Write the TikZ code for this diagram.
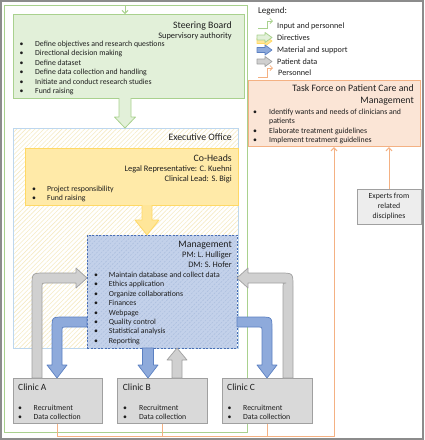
\documentclass[tikz,border=0pt]{standalone}
\usepackage{fontspec}
\setmainfont{Carlito}
\usetikzlibrary{arrows.meta,patterns.meta,calc}
\definecolor{grB}{HTML}{A9D18E}
\definecolor{grF}{HTML}{E2F0D9}
\definecolor{orB}{HTML}{F4B183}
\definecolor{orF}{HTML}{FBE5D6}
\definecolor{yeB}{HTML}{FFD966}
\definecolor{yeF}{HTML}{FFEAA8}
\definecolor{yeA}{HTML}{FFE699}
\definecolor{yeH}{HTML}{F6EBC4}
\definecolor{exB}{HTML}{BDD7EE}
\definecolor{mgB}{HTML}{4A6FB5}
\definecolor{mgF}{HTML}{C3D1EA}
\definecolor{mgH}{HTML}{AEC0DF}
\definecolor{blF}{HTML}{8EAADB}
\definecolor{blB}{HTML}{5B80C2}
\definecolor{gyF}{HTML}{D0D0D0}
\definecolor{gyB}{HTML}{A0A0A0}
\definecolor{clF}{HTML}{D9D9D9}
\definecolor{xpF}{HTML}{EDEDED}
\definecolor{frm}{HTML}{8C8C8C}
\definecolor{txt}{HTML}{1E1E1E}
\newcommand\fT{\fontsize{9.8}{11}\selectfont}
\newcommand\fS{\fontsize{8.4}{9}\selectfont}
\newcommand\fB{\fontsize{7.8}{9.4}\selectfont}
\newcommand\fL{\fontsize{8.2}{9}\selectfont}
\newcommand\fC{\fontsize{9.5}{11}\selectfont}
\newcommand\blist[2]{\begin{tabular}[t]{@{}p{#1}@{}l@{}}#2\end{tabular}}
\begin{document}
\begin{tikzpicture}[x=1pt,y=-1pt,
  every node/.style={text=txt},
  box/.style={inner sep=0pt, anchor=north west},
  ttl/.style={anchor=base east, inner sep=0pt, font=\fT},
  sub/.style={anchor=base east, inner sep=0pt, font=\fS},
  lst/.style={anchor=base west, inner sep=0pt, font=\fB},
  leg/.style={anchor=base west, inner sep=0pt, font=\fL},
  ctl/.style={anchor=base west, inner sep=0pt, font=\fC},
  grl/.style={draw=grB, line width=1pt},
  orl/.style={draw=orB, line width=1pt},
  barb/.style={-{Straight Barb[length=3pt,width=6pt]}},
  garrow/.style={fill=grF, draw=grB, line width=0.8pt, line join=round},
  yarrow/.style={fill=yeA, draw=yeB, line width=0.8pt, line join=round},
  barrow/.style={fill=blF, draw=blB, line width=0.7pt, line join=round},
  gyarrow/.style={fill=gyF, draw=gyB, line width=0.7pt, line join=round},
  clinic/.style={box, fill=clF, draw=gyB, line width=0.8pt, minimum height=45pt}]
\useasboundingbox (0,0) rectangle (424,440);
\draw[frm, line width=2pt] (1,1) rectangle (423,439);

% green input frame
\draw[grl] (4,5) rectangle (247,432);

% boxes
\node[box, preaction={fill=white}, pattern={Lines[angle=45,distance=3.2pt,line width=0.6pt]}, pattern color=yeH, draw=exB, line width=1pt, minimum width=225pt, minimum height=220pt] (ex) at (13,128) {};
\node[box, fill=yeF, draw=yeB, line width=0.8pt, minimum width=213pt, minimum height=57pt] (co) at (25,148) {};
\node[box, preaction={fill=mgF}, pattern={Lines[angle=45,distance=3.2pt,line width=0.6pt]}, pattern color=mgH, draw=mgB, dash pattern=on 2pt off 1.5pt, line width=0.7pt, minimum width=150pt, minimum height=113pt] (mg) at (87,235) {};
\node[box, fill=grF, draw=grB, line width=1.2pt, minimum width=231pt, minimum height=84pt] (sb) at (13,14) {};
\node[box, fill=orF, draw=orB, line width=1.2pt, minimum width=172pt, minimum height=66pt] (tf) at (248,80) {};
\node[fill=xpF, draw=gyB, line width=0.7pt, minimum width=64pt, minimum height=35pt, inner sep=0pt, align=center, font=\fontsize{7.8}{10.4}\selectfont] (xp) at (389,206.5) {Experts from\\related\\disciplines};

% green input arrow
\coordinate (gtop) at (125,5);
\draw[grl, barb] (gtop) -- (gtop |- sb.north);

% Steering board text
\node[ttl] (sbT) at (232,28.5) {Steering Board};
\node[sub] (sbS) at (232,38) {Supervisory authority};
\node[lst] (sbL) at (19.5,46.5) {\blist{15.5pt}{%
\textbullet & Define objectives and research questions\\
\textbullet & Directional decision making\\
\textbullet & Define dataset\\
\textbullet & Define data collection and handling\\
\textbullet & Initiate and conduct research studies\\
\textbullet & Fund raising}};

% Executive office / Co-Heads / Management text
\node[ttl] (exT) at (232,140.5) {Executive Office};
\node[ttl] (coT) at (232,161.5) {Co-Heads};
\node[sub] (coS1) at (232,171) {Legal Representative: C. Kuehni};
\node[sub] (coS2) at (232,181.2) {Clinical Lead: S. Bigi};
\node[lst] (coL) at (32,191.5) {\blist{15pt}{%
\textbullet & Project responsibility\\
\textbullet & Fund raising}};
\node[ttl] (mgT) at (232,247.5) {Management};
\node[sub] (mgS1) at (232,257.2) {PM: L. Hulliger};
\node[sub] (mgS2) at (232,267.4) {DM: S. Hofer};
\node[lst] (mgL) at (94,277.5) {\blist{14.7pt}{%
\textbullet & Maintain database and collect data\\
\textbullet & Ethics application\\
\textbullet & Organize collaborations\\
\textbullet & Finances\\
\textbullet & Webpage\\
\textbullet & Quality control\\
\textbullet & Statistical analysis\\
\textbullet & Reporting}};

% Task force text
\node[ttl] (tfT1) at (414,91.5) {Task Force on Patient Care and};
\node[ttl] (tfT2) at (414,103.7) {Management};
\node[lst] (tfL) at (253,114.2) {\blist{16pt}{%
\textbullet & Identify wants and needs of clinicians and\\
 & patients\\
\textbullet & Elaborate treatment guidelines\\
\textbullet & Implement treatment guidelines}};

% Legend
\node[anchor=base west, inner sep=0pt, font=\fontsize{9}{10}\selectfont] (lgT) at (258,13.3) {Legend:};
\draw[grl, line width=0.8pt, -{Straight Barb[length=2.5pt,width=5pt]}] (258,28) -- (267,28) -- (267,21) -- (273,21);
\node[leg] (lg1) at (277,28.2) {Input and personnel};
\draw[yarrow] (257,38.5) -- (265,38.5) -- (265,36) -- (272,41) -- (265,46) -- (265,43.5) -- (257,43.5) -- cycle;
\draw[garrow] (257,35) -- (265,35) -- (265,32.5) -- (272,37.5) -- (265,42.5) -- (265,40) -- (257,40) -- cycle;
\node[leg] (lg2) at (277,40.7) {Directives};
\draw[barrow] (257,47.5) -- (265,47.5) -- (265,45) -- (272,50) -- (265,55) -- (265,52.5) -- (257,52.5) -- cycle;
\node[leg] (lg3) at (277,52.7) {Material and support};
\draw[gyarrow] (257,59) -- (265,59) -- (265,56.5) -- (272,61.5) -- (265,66.5) -- (265,64) -- (257,64) -- cycle;
\node[leg] (lg4) at (277,64.2) {Patient data};
\draw[orl, line width=0.8pt, -{Straight Barb[length=2.5pt,width=5pt]}] (258,77) -- (267,77) -- (267,68) -- (273,68);
\node[leg] (lg5) at (278,75.4) {Personnel};

% Clinics
\node[clinic, minimum width=89pt] (clA) at (13,378) {};
\node[clinic, minimum width=90pt] (clB) at (117,378) {};
\node[clinic, minimum width=90pt] (clC) at (222,378) {};
\node[ctl] (clAT) at (18,390.5) {Clinic A};
\node[ctl] (clBT) at (122.7,390.5) {Clinic B};
\node[ctl] (clCT) at (227,390.5) {Clinic C};
\node[lst] (clAL) at (18,410) {\blist{15.5pt}{\textbullet & Recruitment\\ \textbullet & Data collection}};
\node[lst] (clBL) at (123,410) {\blist{16pt}{\textbullet & Recruitment\\ \textbullet & Data collection}};
\node[lst] (clCL) at (227.3,410) {\blist{15.7pt}{\textbullet & Recruitment\\ \textbullet & Data collection}};

% Directive block arrows
\draw[garrow] (119,98) -- (119,117) -- (114.5,117) -- (125,128) -- (135.5,117) -- (131,117) -- (131,98);
\draw[yarrow] (142,205) -- (142,220) -- (135,220) -- (147,235) -- (159,220) -- (152,220) -- (152,205);

% Patient data (gray) arrows
\draw[gyarrow] (32,378) -- (32,286) .. controls (32,273) .. (45,273) -- (76,273) -- (76,268) -- (87,278) -- (76,288) -- (76,283) -- (45,283) .. controls (42,283) .. (42,286) -- (42,378) -- cycle;
\draw[gyarrow] (293,378) -- (293,286) .. controls (293,273) .. (280,273) -- (248,273) -- (248,268) -- (237,278) -- (248,288) -- (248,283) -- (286,283) .. controls (283,283) .. (283,286) -- (283,378) -- cycle;
\draw[gyarrow] (172,378) -- (172,360) -- (167,360) -- (177,348) -- (187,360) -- (182,360) -- (182,378) -- cycle;

% Material and support (blue) arrows
\draw[barrow] (87,317) -- (64,317) .. controls (52,317) .. (52,329) -- (52,365) -- (47,365) -- (57,378) -- (67,365) -- (62,365) -- (62,330) .. controls (62,327) .. (65,327) -- (87,327) -- cycle;
\draw[barrow] (237,317) -- (260,317) .. controls (272,317) .. (272,329) -- (272,365) -- (277,365) -- (267,378) -- (257,365) -- (262,365) -- (262,330) .. controls (262,327) .. (259,327) -- (237,327) -- cycle;
\draw[barrow] (142.5,348) -- (142.5,365) -- (138,365) -- (148,378) -- (158,365) -- (153.5,365) -- (153.5,348) -- cycle;

% Personnel (orange) connectors
\coordinate (oc) at (334,436);
\draw[orl, barb] (clA.south) |- (oc) -- (oc |- tf.south);
\draw[orl] (clB.south) -- (clB.south |- oc);
\draw[orl] (clC.south) -- (clC.south |- oc);
\draw[orl, barb] (xp.north) -- (xp.north |- tf.south);
\end{tikzpicture}
\end{document}
